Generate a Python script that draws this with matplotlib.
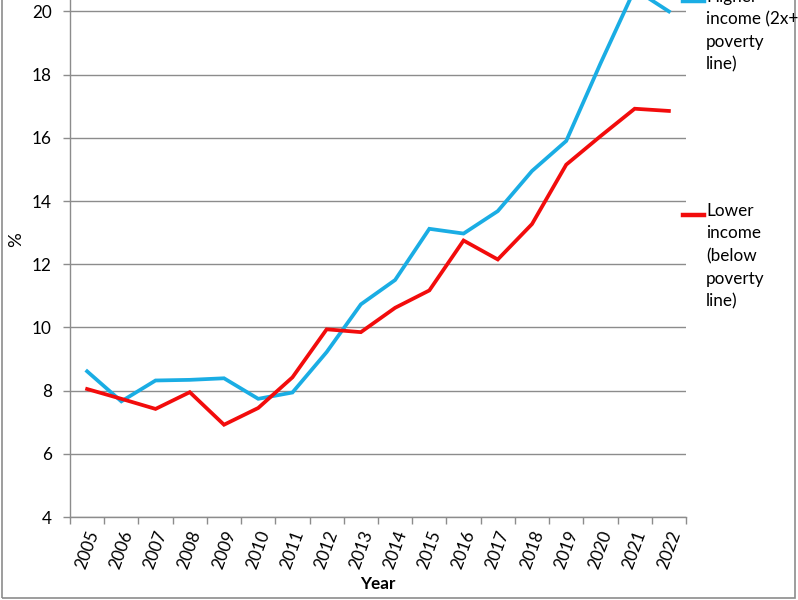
import matplotlib
matplotlib.use("Agg")
import matplotlib.pyplot as plt
from matplotlib.lines import Line2D
from matplotlib.patches import Rectangle

years = [str(y) for y in range(2005, 2023)]
higher_income = [8.61, 7.66, 8.32, 8.34, 8.39, 7.74, 7.94, 9.22, 10.73, 11.5,
                 13.12, 12.97, 13.68, 14.95, 15.9, 18.35, 20.7, 20.0]
lower_income = [8.05, 7.74, 7.42, 7.95, 6.92, 7.45, 8.42, 9.94, 9.85, 10.62,
                11.17, 12.75, 12.15, 13.27, 15.15, 16.05, 16.92, 16.85]
y_ticks = [4, 6, 8, 10, 12, 14, 16, 18, 20]
label_higher = "Higher\nincome (2x+\npoverty\nline)"
label_lower = "Lower\nincome\n(below\npoverty\nline)"

BLUE = "#1AADE4"
RED = "#F20C0C"
GRID = "#8C8C8C"

plt.rcParams['font.family'] = ['Lato', 'DejaVu Sans']
FS = 12.3

W, H = 798, 600
fig = plt.figure(figsize=(W / 100, H / 100), dpi=100)

# axes: left 70px, right 686px, y=4 at 517px, y=22 above top of figure
left, right = 70, 686
bottom_px = 517
px_per_unit = 31.6
top_px = bottom_px - px_per_unit * (22 - 4)
ax = fig.add_axes([left / W, (H - bottom_px) / H, (right - left) / W,
                   (bottom_px - top_px) / H])

x = list(range(len(years)))
ax.plot(x, higher_income, color=BLUE, lw=2.7, solid_joinstyle='miter', zorder=3)
ax.plot(x, lower_income, color=RED, lw=2.7, solid_joinstyle='miter', zorder=3)

ax.set_xlim(-0.5, len(years) - 0.5)
ax.set_ylim(4, 22)
ax.set_yticks(y_ticks)
ax.set_yticklabels([str(v) for v in y_ticks], fontsize=FS)
ax.grid(axis='y', color=GRID, lw=1)
ax.set_axisbelow(True)

ax.set_xticks(x)
ax.set_xticklabels(years, rotation=70, fontsize=FS)
ax.set_xticks([i - 0.5 for i in range(len(years) + 1)], minor=True)
ax.tick_params(axis='x', which='major', length=0, pad=8)
ax.tick_params(axis='x', which='minor', length=5, color=GRID, width=1)
ax.tick_params(axis='y', length=5, color=GRID, width=1, pad=8)

for s in ['top', 'right']:
    ax.spines[s].set_visible(False)
for s in ['left', 'bottom']:
    ax.spines[s].set_color(GRID)
    ax.spines[s].set_linewidth(1)

ax.set_xlabel("Year", fontsize=FS, fontweight='bold')
ax.xaxis.set_label_coords(0.5, -(576 - bottom_px) / (bottom_px - top_px))
ax.set_ylabel("%", fontsize=FS + 1)
ax.yaxis.set_label_coords((24 - left) / (right - left),
                          (bottom_px - 240) / (bottom_px - top_px))

# legend (manual, to the right of the plot)
def fy(py):
    return 1 - py / H

for color, label, py in [(BLUE, label_higher, 1), (RED, label_lower, 215)]:
    fig.add_artist(Line2D([683 / W, 704 / W], [fy(py), fy(py)],
                          transform=fig.transFigure, color=color, lw=3.2))
    fig.text(706 / W, fy(py - 12), label, fontsize=FS, ha='left', va='top',
             linespacing=1.5)

# outer chart frame
fig.add_artist(Rectangle((2 / W, 2 / H), 793 / W, 1.2, transform=fig.transFigure,
                         fill=False, edgecolor=GRID, lw=1.2))

fig.savefig("out.png", dpi=100)
